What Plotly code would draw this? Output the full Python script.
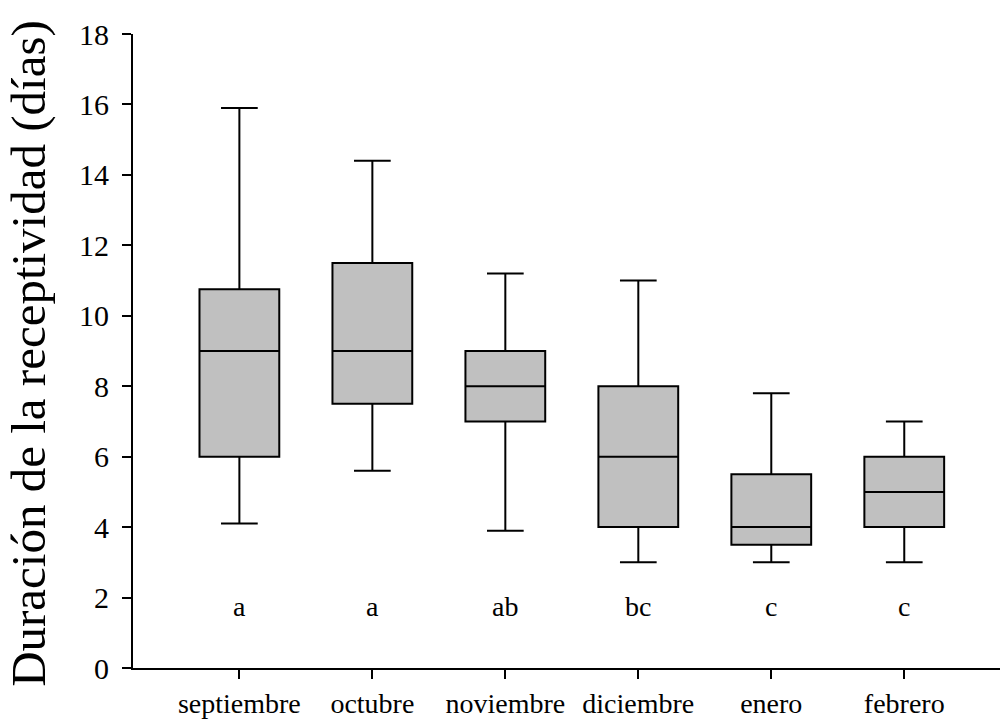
import plotly.graph_objects as go

months = ["septiembre", "octubre", "noviembre", "diciembre", "enero", "febrero"]
lower = [4.1, 5.6, 3.9, 3.0, 3.0, 3.0]
q1 = [6.0, 7.5, 7.0, 4.0, 3.5, 4.0]
median = [9.0, 9.0, 8.0, 6.0, 4.0, 5.0]
q3 = [10.75, 11.5, 9.0, 8.0, 5.5, 6.0]
upper = [15.9, 14.4, 11.2, 11.0, 7.8, 7.0]
letters = ["a", "a", "ab", "bc", "c", "c"]
letter_y = 1.75
y_ticks = [0, 2, 4, 6, 8, 10, 12, 14, 16, 18]
y_title = "Duración de la receptividad (días)"

pos = list(range(len(months)))
font_family = "Liberation Serif"

fig = go.Figure()
fig.add_trace(go.Box(
    x=pos, q1=q1, median=median, q3=q3,
    lowerfence=lower, upperfence=upper,
    width=0.6, whiskerwidth=0.46,
    fillcolor="#c0c0c0",
    line=dict(color="black", width=2),
    boxpoints=False, showlegend=False, hoverinfo="skip",
))

for i, t in enumerate(letters):
    fig.add_annotation(x=pos[i], y=letter_y, text=t, showarrow=False,
                       font=dict(family=font_family, size=28, color="black"),
                       xref="x", yref="y")

fig.add_annotation(x=-0.12, y=0.497, xref="paper", yref="paper",
                   text=y_title, textangle=-90, showarrow=False,
                   xanchor="center", yanchor="middle",
                   font=dict(family=font_family, size=49, color="black"))

fig.update_layout(
    width=1002, height=726,
    margin=dict(l=133, r=2, t=34, b=58),
    plot_bgcolor="white", paper_bgcolor="white",
    font=dict(family=font_family, size=28, color="black"),
    xaxis=dict(
        range=[-0.8, 5.72], tickmode="array", tickvals=pos, ticktext=months,
        showline=True, linecolor="black", linewidth=2,
        ticks="outside", ticklen=9, tickwidth=2, tickcolor="black",
        showgrid=False, zeroline=False,
        tickfont=dict(family=font_family, size=28),
    ),
    yaxis=dict(
        range=[0, 18], tickmode="array", tickvals=y_ticks,
        showline=True, linecolor="black", linewidth=2,
        ticks="outside", ticklen=9, tickwidth=2, tickcolor="black",
        showgrid=False, zeroline=False, ticklabelstandoff=7,
        tickfont=dict(family=font_family, size=30),
    ),
)

fig.write_html("out.html")
